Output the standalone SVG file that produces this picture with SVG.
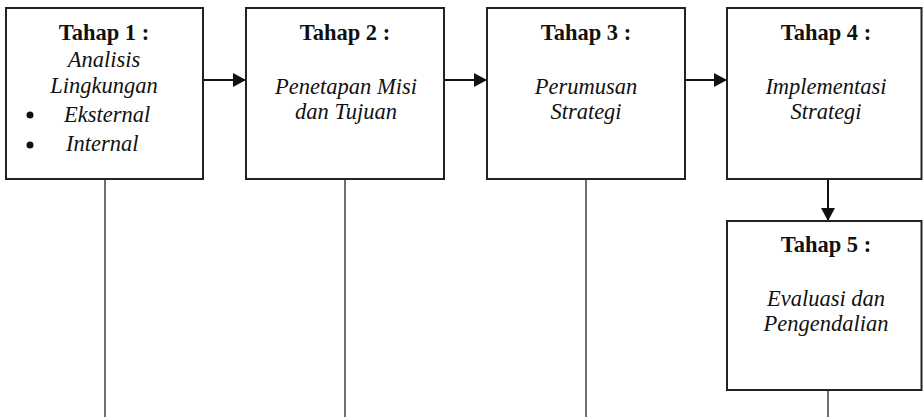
<svg xmlns="http://www.w3.org/2000/svg" width="923" height="417" viewBox="0 0 923 417">
<defs>
<marker id="ah" markerWidth="13" markerHeight="14" refX="13" refY="7" orient="auto" markerUnits="userSpaceOnUse">
<path d="M0,0 L13,7 L0,14 z" fill="#111"/>
</marker>
<style>
.box{fill:#fff;stroke:#222;stroke-width:2}
.t{font-family:"Liberation Serif","Times New Roman",serif;font-size:22.5px;fill:#111}
.b{font-weight:bold;text-anchor:middle}
.i{font-style:italic}
.m{text-anchor:middle}
.arr{stroke:#111;stroke-width:2;fill:none}
.ln{stroke:#222;stroke-width:1.3;fill:none}
</style>
</defs>
<rect width="923" height="417" fill="#fff"/>
<g id="connectors">
<line class="arr" x1="203" y1="80" x2="246" y2="80" marker-end="url(#ah)"/>
<line class="arr" x1="444" y1="80" x2="487" y2="80" marker-end="url(#ah)"/>
<line class="arr" x1="685" y1="80" x2="727" y2="80" marker-end="url(#ah)"/>
<line class="arr" x1="828" y1="179" x2="828" y2="221" marker-end="url(#ah)"/>
<line class="ln" x1="105" y1="179" x2="105" y2="417"/>
<line class="ln" x1="345" y1="179" x2="345" y2="417"/>
<line class="ln" x1="586" y1="179" x2="586" y2="417"/>
<line class="ln" x1="828" y1="390" x2="828" y2="417"/>
</g>
<g id="tahap1">
<rect class="box" x="6" y="8" width="197" height="171"/>
<text class="t b" x="104" y="40">Tahap 1 :</text>
<text class="t i m" x="104" y="67">Analisis</text>
<text class="t i m" x="104" y="93">Lingkungan</text>
<circle cx="30" cy="115" r="3.5" fill="#111"/>
<text class="t i" x="64" y="122">Eksternal</text>
<circle cx="30" cy="145" r="3.5" fill="#111"/>
<text class="t i" x="66" y="151">Internal</text>
</g>
<g id="tahap2">
<rect class="box" x="246" y="8" width="198" height="171"/>
<text class="t b" x="345" y="40">Tahap 2 :</text>
<text class="t i m" x="346" y="94">Penetapan Misi</text>
<text class="t i m" x="346" y="119">dan Tujuan</text>
</g>
<g id="tahap3">
<rect class="box" x="487" y="8" width="198" height="171"/>
<text class="t b" x="586" y="40">Tahap 3 :</text>
<text class="t i m" x="586" y="94">Perumusan</text>
<text class="t i m" x="586" y="119">Strategi</text>
</g>
<g id="tahap4">
<rect class="box" x="727" y="8" width="194.5" height="171"/>
<text class="t b" x="826" y="40">Tahap 4 :</text>
<text class="t i m" x="826" y="94">Implementasi</text>
<text class="t i m" x="826" y="119">Strategi</text>
</g>
<g id="tahap5">
<rect class="box" x="727" y="221" width="194.5" height="169"/>
<text class="t b" x="826" y="252">Tahap 5 :</text>
<text class="t i m" x="826" y="306">Evaluasi dan</text>
<text class="t i m" x="826" y="331">Pengendalian</text>
</g>
</svg>
